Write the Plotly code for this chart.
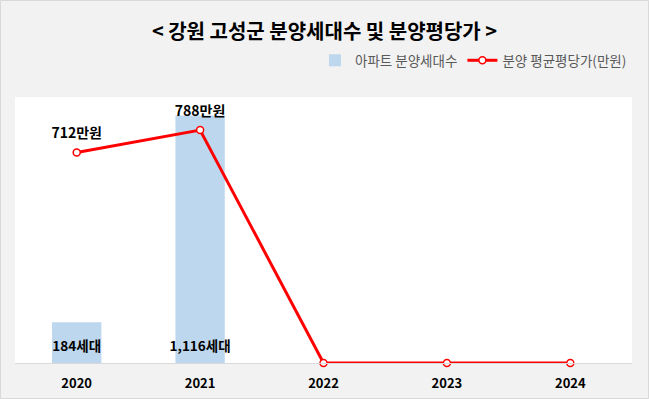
import plotly.graph_objects as go

years = ["2020", "2021", "2022", "2023", "2024"]
units = [184, 1116, None, None, None]
unit_labels = ["184세대", "1,116세대", "", "", ""]
price = [712, 788, 0, 0, 0]
price_labels = ["712만원", "788만원", "", "", ""]

W, H = 649, 399
L, R, T, B = 15, 17, 97, 36
pw, ph = W - L - R, H - T - B

FONT = "Noto Sans CJK KR, Malgun Gothic, sans-serif"

fig = go.Figure()
fig.add_trace(go.Bar(
    x=years, y=units, name="아파트 분양세대수",
    marker=dict(color="#bdd7ee", line=dict(width=0)),
    width=0.4,
))
fig.add_trace(go.Scatter(
    x=years, y=[0 if u is not None else None for u in units],
    mode="markers+text", marker=dict(size=12, opacity=0),
    text=unit_labels, textposition="top center",
    textfont=dict(family=FONT, size=13.5, color="#000000", weight="bold"),
    showlegend=False, hoverinfo="skip", cliponaxis=False,
))
fig.add_trace(go.Scatter(
    x=years, y=price, name="분양 평균평당가(만원)", yaxis="y2",
    mode="lines+markers",
    line=dict(color="#ff0000", width=3),
    marker=dict(size=7, color="white", line=dict(color="#ff0000", width=1.5)),
    cliponaxis=False,
))
fig.add_trace(go.Scatter(
    x=years, y=price, yaxis="y2", mode="markers+text",
    marker=dict(size=16, opacity=0),
    text=price_labels, textposition="top center",
    textfont=dict(family=FONT, size=14, color="#000000", weight="bold"),
    showlegend=False, hoverinfo="skip", cliponaxis=False,
))

fig.update_layout(
    width=W, height=H,
    margin=dict(l=L, r=R, t=T, b=B, autoexpand=False),
    paper_bgcolor="#f2f2f2", plot_bgcolor="#ffffff",
    font=dict(family=FONT),
    title=dict(text="<b>< 강원 고성군 분양세대수 및 분양평당가 ></b>",
               x=0.5, xanchor="center", y=1 - 32 / H, yanchor="middle",
               font=dict(family=FONT, size=20, color="#000000")),
    showlegend=True,
    legend=dict(orientation="h", x=1, xanchor="right", y=1 + (T - 76) / ph, yanchor="bottom",
                font=dict(family=FONT, size=13.5, color="#595959"),
                bgcolor="rgba(0,0,0,0)", traceorder="normal"),
    xaxis=dict(showgrid=False, showline=True, linecolor="#d9d9d9", linewidth=1,
               automargin=False,
               ticks="", tickfont=dict(family=FONT, size=13, color="#000000", weight="bold"),
               ticklabelstandoff=8),
    yaxis=dict(range=[0, 1200], visible=False, showgrid=False),
    yaxis2=dict(range=[0, 900], visible=False, showgrid=False, overlaying="y", side="right"),
    shapes=[dict(type="rect", xref="paper", yref="paper",
                 x0=-(L - 0.5) / pw, x1=1 + (R - 0.5) / pw,
                 y0=-(B - 0.5) / ph, y1=1 + (T - 0.5) / ph,
                 line=dict(color="#d9d9d9", width=1), fillcolor="rgba(0,0,0,0)", layer="below")],
)

fig.write_html("out.html", config={"displayModeBar": False},
               post_script="document.body.style.margin='0';document.body.style.overflow='hidden';")
